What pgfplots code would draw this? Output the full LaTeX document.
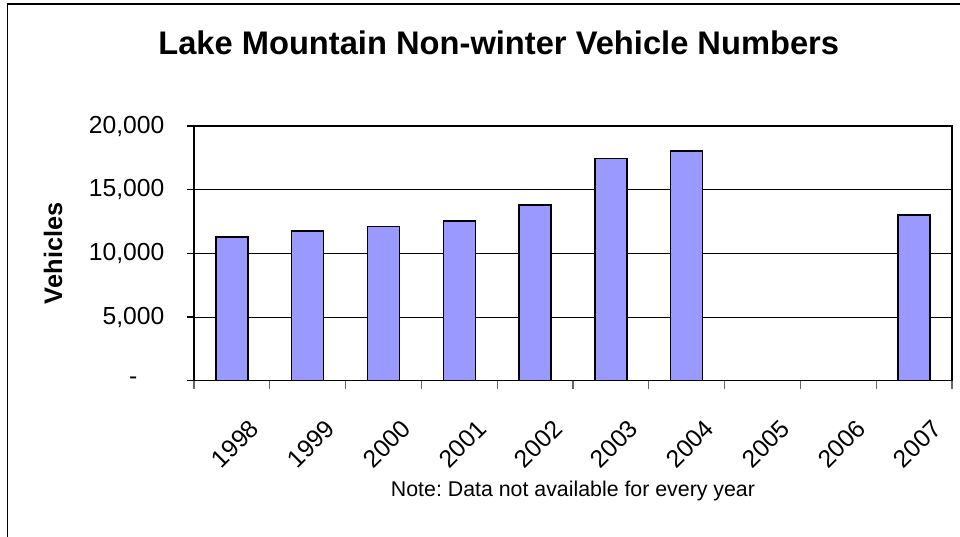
\documentclass[border=0pt]{standalone}
\usepackage{fontspec}
\setmainfont{Liberation Sans}
\usepackage{pgfplots}
\pgfplotsset{compat=1.18}
\definecolor{barblue}{HTML}{9999FF}
\begin{document}
\frenchspacing
\begin{tikzpicture}
\path[use as bounding box] (0,0) rectangle (720pt,402pt);
\draw[line width=1pt] (5.4pt,-2pt) -- (5.4pt,399pt) -- (722pt,399pt);
\begin{axis}[
  at={(145.5pt,116.5pt)}, anchor=south west,
  scale only axis, width=568.5pt, height=191pt,
  xmin=-0.5, xmax=9.5, ymin=0, ymax=20000,
  xtick={0,...,9},
  xticklabels={1998,1999,2000,2001,2002,2003,2004,2005,2006,2007},
  minor xtick={-0.5,0.5,...,9.5},
  ytick={0,5000,10000,15000,20000},
  yticklabels={{-\hspace*{1.1em}},{5,000},{10,000},{15,000},{20,000}},
  scaled y ticks=false,
  /pgf/number format/assume math mode=true,
  tick pos=left,
  tick align=outside,
  major tick length=5pt, minor tick length=6pt,
  major x tick style={draw=none},
  minor x tick style={draw=black!60, line width=0.9pt},
  major y tick style={draw=black, line width=0.8pt},
  ymajorgrids, major grid style={black, line width=0.6pt},
  axis line style={black, line width=1.2pt},
  tick label style={font=\fontsize{18.5}{20}\selectfont},
  yticklabel style={anchor=east, inner sep=0pt, xshift=-17pt},
  xticklabel style={rotate=45, anchor=north east, inner sep=0pt, xshift=-7.5pt, yshift=-25pt},
  title={Lake Mountain Non-winter Vehicle Numbers},
  title style={at={(axis description cs:0.402,1)}, anchor=base, yshift=48pt, font=\bfseries\fontsize{24.5}{28}\selectfont},
  ylabel={Vehicles},
  ylabel style={at={(axis description cs:-0.186,0.5)}, anchor=center, font=\bfseries\fontsize{19}{22}\selectfont},
  xlabel={Note: Data not available for every year},
  xlabel style={at={(axis description cs:0.5,0)}, anchor=base, yshift=-87pt, font=\fontsize{16}{18}\selectfont},
]
\addplot[ybar, bar width=24pt, fill=barblue, draw=black, line width=1.1pt]
  coordinates {(0,11300) (1,11750) (2,12100) (3,12550) (4,13800) (5,17450) (6,18050) (9,13000)};
\end{axis}
\end{tikzpicture}
\end{document}
